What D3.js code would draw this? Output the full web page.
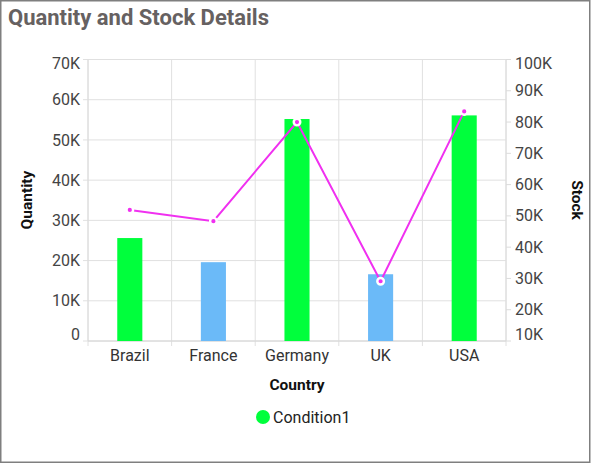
<!DOCTYPE html>
<html>
<head>
<meta charset="utf-8">
<script src="https://cdn.jsdelivr.net/npm/d3@7"></script>
<style>
  html, body { margin: 0; padding: 0; background: #fff; }
  svg { display: block; font-family: Roboto, "Noto Sans", sans-serif; }
</style>
</head>
<body>
<div id="chart"></div>
<script>
// data
const countries = ['Brazil', 'France', 'Germany', 'UK', 'USA'];
const quantity = [25600, 19600, 55200, 16600, 56100];
const stock = [51900, 48300, 80000, 29100, 83400];
const barColors = ['#00ff3c', '#6bbaf8', '#00ff3c', '#6bbaf8', '#00ff3c'];
const qtyTicks = [0, 10000, 20000, 30000, 40000, 50000, 60000, 70000];
const stockTicks = [10000, 20000, 30000, 40000, 50000, 60000, 70000, 80000, 90000, 100000];

const W = 591, H = 464;
const plot = { left: 88, right: 506, top: 59.5, bottom: 341 };

const svg = d3.select('#chart').append('svg')
  .attr('width', W).attr('height', H);

// outer frame
svg.append('rect')
  .attr('x', 0.75).attr('y', 0.75)
  .attr('width', 589).attr('height', 461.5)
  .attr('fill', '#fff').attr('stroke', '#7f7f7f').attr('stroke-width', 1.5);

svg.append('text')
  .attr('x', 8).attr('y', 25)
  .attr('font-size', '22px').attr('font-weight', 700).attr('fill', '#666161')
  .text('Quantity and Stock Details');

const x = d3.scaleBand().domain(countries)
  .range([plot.left, plot.right]).paddingInner(0).paddingOuter(0);
const yQ = d3.scaleLinear().domain([0, 70000]).range([plot.bottom, plot.top]);
const yS = d3.scaleLinear().domain([10000, 100000]).range([plot.bottom, plot.top]);

const fmtK = v => v === 0 ? '0' : (v / 1000) + 'K';
const gridColor = '#e0e0e0';

// horizontal grid from primary axis
svg.append('g').selectAll('line')
  .data(qtyTicks).join('line')
  .attr('x1', plot.left - 5).attr('x2', plot.right)
  .attr('y1', d => yQ(d)).attr('y2', d => yQ(d))
  .attr('stroke', gridColor).attr('stroke-width', 1);

// vertical grid at category boundaries
const bounds = countries.map(c => x(c)).concat([plot.right]);
svg.append('g').selectAll('line')
  .data(bounds).join('line')
  .attr('x1', d => d).attr('x2', d => d)
  .attr('y1', plot.top).attr('y2', plot.bottom + 5)
  .attr('stroke', gridColor).attr('stroke-width', 1);

// axis lines
svg.append('line')
  .attr('x1', plot.left).attr('x2', plot.left)
  .attr('y1', plot.top).attr('y2', plot.bottom)
  .attr('stroke', '#dcdcdc');
svg.append('line')
  .attr('x1', plot.right).attr('x2', plot.right)
  .attr('y1', plot.top).attr('y2', plot.bottom)
  .attr('stroke', '#dcdcdc');
svg.append('line')
  .attr('x1', plot.left).attr('x2', plot.right)
  .attr('y1', plot.bottom).attr('y2', plot.bottom)
  .attr('stroke', '#d6d6d6');

// right axis ticks
svg.append('g').selectAll('line')
  .data(stockTicks).join('line')
  .attr('x1', plot.right).attr('x2', plot.right + 5)
  .attr('y1', d => yS(d)).attr('y2', d => yS(d))
  .attr('stroke', '#dcdcdc');

// left tick labels (edge labels shifted inward)
const edgeShift = (v, lo, hi) => v === lo ? -7 : (v === hi ? 4 : 0);
svg.append('g').selectAll('text')
  .data(qtyTicks).join('text')
  .attr('x', plot.left - 8)
  .attr('y', d => yQ(d) + edgeShift(d, 0, 70000))
  .attr('dy', '0.35em')
  .attr('text-anchor', 'end').attr('font-size', '16px').attr('fill', '#444')
  .text(fmtK);

svg.append('g').selectAll('text')
  .data(stockTicks).join('text')
  .attr('x', plot.right + 9)
  .attr('y', d => yS(d) + edgeShift(d, 10000, 100000))
  .attr('dy', '0.35em')
  .attr('text-anchor', 'start').attr('font-size', '16px').attr('fill', '#444')
  .text(fmtK);

// category labels
svg.append('g').selectAll('text')
  .data(countries).join('text')
  .attr('x', d => x(d) + x.bandwidth() / 2)
  .attr('y', plot.bottom + 20)
  .attr('text-anchor', 'middle').attr('font-size', '16px').attr('fill', '#333')
  .text(d => d);

// axis titles
svg.append('text')
  .attr('transform', `translate(32,200) rotate(-90)`)
  .attr('text-anchor', 'middle').attr('font-size', '15.5px').attr('font-weight', 700).attr('fill', '#111')
  .text('Quantity');
svg.append('text')
  .attr('transform', `translate(572,200) rotate(90)`)
  .attr('text-anchor', 'middle').attr('font-size', '15.5px').attr('font-weight', 700).attr('fill', '#111')
  .text('Stock');
svg.append('text')
  .attr('x', (plot.left + plot.right) / 2).attr('y', 390)
  .attr('text-anchor', 'middle').attr('font-size', '15.5px').attr('font-weight', 700).attr('fill', '#111')
  .text('Country');

// bars
const barW = x.bandwidth() * 0.3;
svg.append('g').selectAll('rect')
  .data(countries).join('rect')
  .attr('x', d => x(d) + (x.bandwidth() - barW) / 2)
  .attr('y', (d, i) => yQ(quantity[i]))
  .attr('width', barW)
  .attr('height', (d, i) => yQ(0) - yQ(quantity[i]))
  .attr('fill', (d, i) => barColors[i]);

// stock line
const line = d3.line()
  .x((d, i) => x(countries[i]) + x.bandwidth() / 2)
  .y(d => yS(d));
svg.append('path')
  .datum(stock)
  .attr('d', line)
  .attr('fill', 'none').attr('stroke', '#f030f0').attr('stroke-width', 2);

svg.append('g').selectAll('circle')
  .data(stock).join('circle')
  .attr('cx', (d, i) => x(countries[i]) + x.bandwidth() / 2)
  .attr('cy', d => yS(d))
  .attr('r', 3.3)
  .attr('fill', '#f030f0').attr('stroke', '#fff').attr('stroke-width', 2.4);

// legend
svg.append('circle')
  .attr('cx', 263).attr('cy', 417).attr('r', 7)
  .attr('fill', '#00ff3c');
svg.append('text')
  .attr('x', 273).attr('y', 417).attr('dy', '0.35em')
  .attr('font-size', '16px').attr('fill', '#222')
  .text('Condition1');
</script>
</body>
</html>
